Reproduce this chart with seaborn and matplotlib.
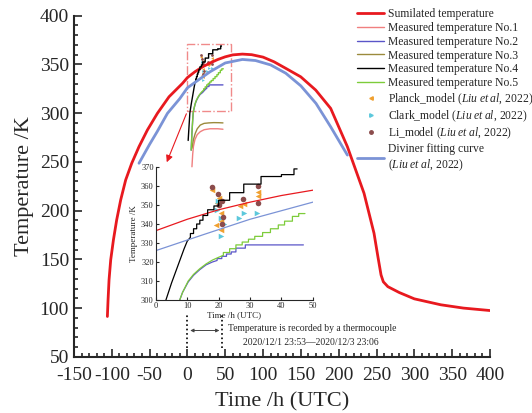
import numpy as np
import matplotlib
matplotlib.use("Agg")
import matplotlib.pyplot as plt
import seaborn as sns
from matplotlib.lines import Line2D
from matplotlib.patches import Rectangle
from matplotlib.ticker import MultipleLocator

sns.set_style("ticks")
plt.rcParams["font.family"] = ["Liberation Serif", "DejaVu Serif"]
plt.rcParams["mathtext.fontset"] = "custom"
plt.rcParams["mathtext.it"] = "Liberation Serif:italic"
plt.rcParams["mathtext.rm"] = "Liberation Serif"
plt.rcParams["axes.unicode_minus"] = False

# ---------- data ----------
sim_t = [-105.8, -104.9, -103.6, -101.4, -97.8, -93.5, -88.2, -81.6, -73.6, -64.0,
         -52.9, -39.7, -24.3, -6.6, 0, 10, 20, 30, 40, 50, 60, 72.7, 85, 100, 114.5,
         130, 149.8, 169.6, 189.4, 211.5, 233.5, 246.7, 252, 256, 259, 265, 280, 300,
         335, 365, 400]
sim_T = [91.4, 108.5, 129, 149.5, 170, 190.5, 211, 231.5, 248.6, 265.6,
         282.7, 299.8, 316.8, 330.5, 336.5, 342.5, 347.5, 351.5, 355, 357.8, 359.8, 360.6,
         360, 357.5, 352.7, 346, 337.3, 323.7, 304.9, 265.6, 217.8, 176.8, 152, 134, 127,
         122, 116, 109.5, 103.4, 100, 97.5]

div_t = [-64, -50, -40, -26.4, -10, 0, 15.3, 30, 50, 72.7, 90, 110, 130, 150, 170, 189.4, 211.5]
div_T = [248.6, 268, 281, 299.8, 315, 326, 334.5, 342.5, 351.5, 355.1, 354, 349.5, 341, 328, 310, 286, 257]

no1_t = [6, 7, 8, 10, 13, 17, 22, 30, 40, 47]
no1_T = [245, 258, 266, 273, 278, 281, 283, 284, 284, 283.5]

no2_t = [5, 6, 7, 7.6, 8.5, 10.3, 12, 14, 16, 18, 19.5, 19.5, 21, 21, 22.5, 22.5, 24, 24,
         25.5, 25.5, 28.5, 28.5, 40, 47]
no2_T = [262, 280, 293, 300, 304, 309.5, 313, 316, 318.5, 320, 320.8, 321.8, 321.8, 323,
         323, 324.2, 324.2, 325.3, 325.3, 327.3, 327.3, 329, 329, 329]

no3_t = [6.0, 8, 10.4, 13, 17, 22, 28, 35, 42, 47]
no3_T = [264, 273, 279.3, 284, 287.8, 289.5, 290, 290.3, 290.2, 290]

no4_t = [1.0, 3.2, 5.0, 7.0, 9.0, 10.0, 11.0, 11.0, 12.0, 12.0, 13.0, 13.0, 14.0, 14.0,
         15.0, 15.0, 16.5, 16.5, 18.5, 18.5, 20.0, 20.0, 23.5, 23.5, 28.0, 28.0, 33.5,
         33.5, 40.0, 40.0, 44.0, 44.0, 45.0]
no4_T = [272, 300, 309, 318, 327, 331, 333, 335, 335, 337.5, 337.5, 340, 340, 342, 342,
         344.5, 344.5, 347.5, 347.5, 349.5, 349.5, 352.5, 352.5, 356.5, 356.5, 361, 361,
         365, 365, 366, 366, 369, 369]

no5_t = [5, 6, 7, 7.6, 8.5, 10.3, 12, 14, 16, 18, 20, 21.5, 21.5, 23.5, 23.5, 25.5, 25.5,
         27.5, 27.5, 29.5, 29.5, 31.5, 31.5, 34, 34, 36.5, 36.5, 39, 39, 41, 41, 43.5,
         43.5, 45.5, 45.5, 47.5]
no5_T = [262, 280, 293, 300, 304, 310, 313.5, 316.5, 319, 321, 322.5, 323.5, 325, 325, 327,
         327, 329, 329, 330.5, 330.5, 332, 332, 333.5, 333.5, 335.5, 335.5, 337.5, 337.5,
         339.5, 339.5, 341.5, 341.5, 344, 344, 345.5, 345.5]

planck_t = [17.9, 20.0, 19.4, 20.6, 19.3, 20.8, 20.7, 26.7, 28.2, 32.5, 32.5]
planck_T = [357.8, 353.5, 350.8, 345.8, 339.6, 337.0, 341.5, 349.5, 350.6, 357.0, 354.5]
clark_t = [19.6, 20.8, 21.8, 20.9, 26.4, 28.0, 32.3, 19.8]
clark_T = [347.5, 343.0, 339.8, 333.8, 343.0, 346.0, 346.0, 352.3]
li_t = [18.0, 19.8, 20.1, 21.0, 21.5, 21.2, 27.8, 32.4, 32.4]
li_T = [359.3, 355.8, 350.2, 352.0, 343.5, 339.8, 353.0, 359.8, 350.8]

C_SIM, C_NO1, C_NO2, C_NO3 = "#e8191f", "#f07f7f", "#5a55c8", "#9b8a3c"
C_NO4, C_NO5, C_DIV = "#000000", "#7dcc3a", "#7b93d6"
C_PL, C_CL, C_LI = "#f0a030", "#5cc8dc", "#8b4c4c"

lines = [(sim_t, sim_T, C_SIM), (no1_t, no1_T, C_NO1), (no2_t, no2_T, C_NO2),
         (no3_t, no3_T, C_NO3), (no4_t, no4_T, C_NO4), (no5_t, no5_T, C_NO5),
         (div_t, div_T, C_DIV)]
points = [(planck_t, planck_T, C_PL, "<"), (clark_t, clark_T, C_CL, ">"),
          (li_t, li_T, C_LI, "o")]

fig = plt.figure(figsize=(5.32, 4.13), dpi=100)
ax = fig.add_axes([0.139, 0.136, 0.782, 0.826])

for x, y, c in lines:
    big = c in (C_SIM, C_DIV)
    sns.lineplot(x=x, y=y, ax=ax, color=c, lw=2.0 if big else 1.0,
                 estimator=None, sort=False, legend=False)
for x, y, c, m in points:
    sns.scatterplot(x=x, y=y, ax=ax, color=c, marker=m, s=4, linewidth=0, legend=False)

ax.set_xlim(-150, 400)
ax.set_ylim(50, 400)
ax.xaxis.set_major_locator(MultipleLocator(50))
ax.xaxis.set_minor_locator(MultipleLocator(10))
ax.yaxis.set_major_locator(MultipleLocator(50))
ax.yaxis.set_minor_locator(MultipleLocator(10))
ax.tick_params(which="both", direction="in", labelsize=14, width=1.2)
ax.tick_params(which="major", length=6)
ax.tick_params(which="minor", length=3)
ax.tick_params(axis="x", pad=7)
for s in ["top", "right"]:
    ax.spines[s].set_visible(False)
for s in ["left", "bottom"]:
    ax.spines[s].set_linewidth(1.5)
ax.set_xlabel("Time /h (UTC)", fontsize=16, labelpad=6)
ax.set_ylabel("Temperature /K", fontsize=16, labelpad=4)

# zoom box and arrow to inset
ax.add_patch(Rectangle((0, 302), 57, 69, fill=False, ec="#f08a8a", lw=1.0, ls="-."))
ax.annotate("", xy=(-28.7, 247), xytext=(0, 302),
            arrowprops=dict(arrowstyle="-|>", color=C_SIM, lw=0.8, mutation_scale=10))

# thermocouple record period
for xv in [0, 46]:
    ax.plot([xv, xv], [59, 94], ls=":", color="k", lw=1.2)
ax.annotate("", xy=(0, 77), xytext=(46, 77),
            arrowprops=dict(arrowstyle="<|-|>", color="#444444", lw=0.7, mutation_scale=5))
ax.text(165, 79, "Temperature is recorded by a thermocouple", fontsize=6.9,
        ha="center", va="center")
ax.text(163, 65, "2020/12/1 23:53\u20142020/12/3 23:06", fontsize=6.9,
        ha="center", va="center")

# legend
cite = r"($\mathit{Liu\;et\;al,\,2022}$)"
labels = ["Sumilated temperature", "Measured temperature No.1", "Measured temperature No.2",
          "Measured temperature No.3", "Measured temperature No.4", "Measured temperature No.5",
          "Planck_model " + cite, "Clark_model " + cite, "Li_model " + cite,
          "Diviner fitting curve\n" + cite]
handles = [Line2D([], [], color=C_SIM, lw=2.0)]
handles += [Line2D([], [], color=c, lw=1.0) for c in [C_NO1, C_NO2, C_NO3, C_NO4, C_NO5]]
handles += [Line2D([], [], color=c, marker=m, ls="none", ms=2.5)
            for c, m in [(C_PL, "<"), (C_CL, ">"), (C_LI, "o")]]
handles += [Line2D([], [], color=C_DIV, lw=2.0)]
fig.legend(handles, labels, loc="upper left", bbox_to_anchor=(0.663, 0.992),
           frameon=False, fontsize=8.4, handlelength=2.3, handletextpad=0.3,
           labelspacing=0.16, borderaxespad=0)

# inset
ins = fig.add_axes([0.293, 0.2736, 0.295, 0.322])
for x, y, c in lines:
    if c in (C_NO1, C_NO3):
        continue
    sns.lineplot(x=x, y=y, ax=ins, color=c, lw=0.9, estimator=None, sort=False, legend=False)
for x, y, c, m in points:
    sns.scatterplot(x=x, y=y, ax=ins, color=c, marker=m, s=16, linewidth=0, legend=False)
ins.set_xlim(0, 50)
ins.set_ylim(300, 370)
ins.xaxis.set_major_locator(MultipleLocator(10))
ins.yaxis.set_major_locator(MultipleLocator(10))
ins.tick_params(direction="in", labelsize=6, length=2.5, width=0.8, pad=1.5)
for s in ["top", "right"]:
    ins.spines[s].set_visible(False)
ins.set_xlabel("Time /h (UTC)", fontsize=6.5, labelpad=1)
ins.set_ylabel("Temperature /K", fontsize=6.5, labelpad=2)
ins.patch.set_alpha(0)

fig.savefig("out.png", dpi=100)
